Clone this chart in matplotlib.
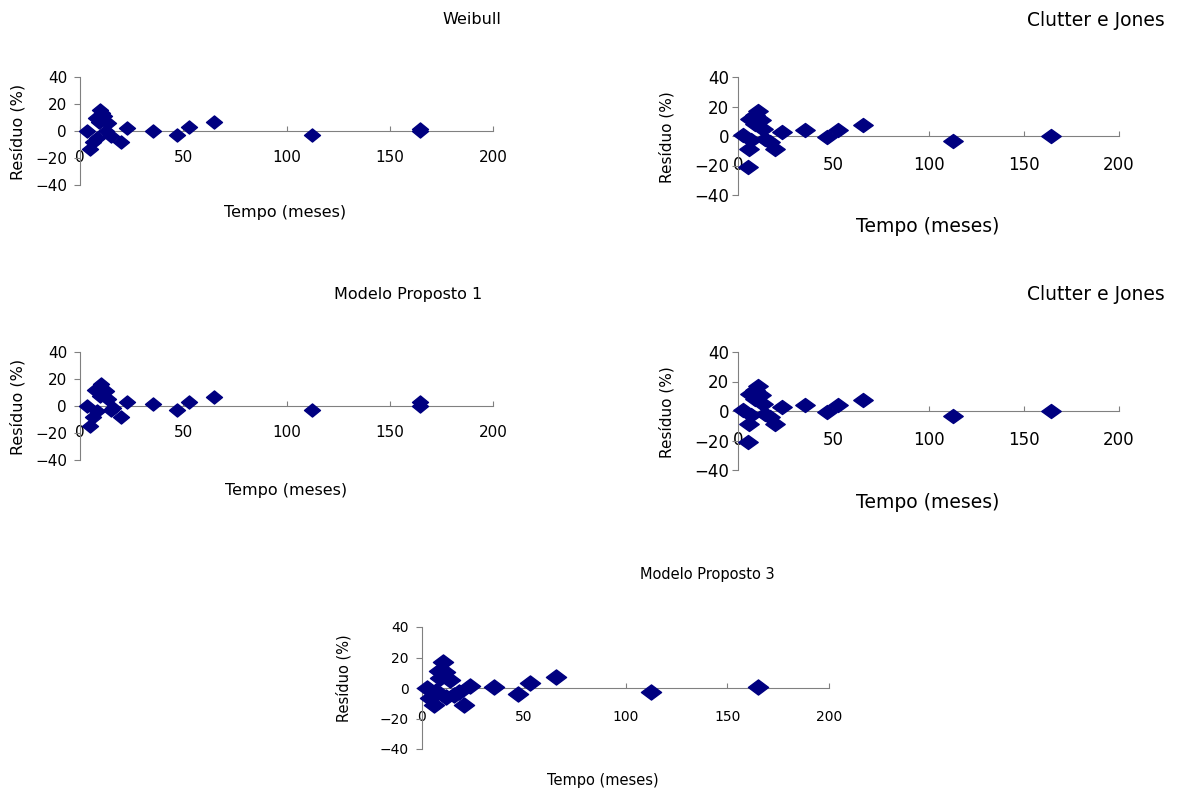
import matplotlib.pyplot as plt
from matplotlib.path import Path

# Resíduos (%) x Tempo (meses) para cada modelo
weibull_x = [3.6, 4.8, 6.1, 8.1, 7.6, 9.7, 9.4, 10.5, 11.8, 13.4, 12.6, 15.0, 19.9, 22.9,
             35.2, 46.8, 52.8, 65.1, 112.3, 164.5, 164.5]
weibull_y = [0.2, -13.3, -8.4, -5.2, 9.6, 15.8, 6.4, 13.0, 10.9, 5.9, -0.2, -3.5, -8.4, 2.0,
             0.2, -3.0, 2.7, 6.4, -2.7, 1.5, 0.0]

clutter_x = [2.6, 5.1, 5.8, 6.8, 6.5, 10.3, 9.1, 9.0, 12.1, 13.1, 14.3, 16.6, 19.6, 23.1,
             35.0, 46.7, 52.6, 65.6, 113.1, 164.3]
clutter_y = [0.5, -20.7, -9.0, -2.7, 11.7, 16.9, 7.9, 14.0, 10.8, 4.5, -2.2, -4.0, -9.0, 2.7,
             4.0, -0.7, 4.0, 7.6, -3.6, -0.2]

proposto1_x = [3.6, 4.8, 6.5, 8.4, 7.3, 10.0, 9.7, 12.4, 13.7, 14.9, 16.0, 20.0, 23.0,
               35.2, 46.8, 52.8, 65.0, 112.3, 164.5, 164.5]
proposto1_y = [0.0, -14.5, -8.0, -4.0, 11.5, 16.5, 7.5, 11.0, 5.5, -3.0, -1.5, -8.5, 3.0,
               1.8, -3.0, 3.0, 6.5, -2.7, 3.0, 0.0]

proposto3_x = [2.5, 4.1, 5.7, 7.0, 8.5, 10.3, 9.0, 11.5, 13.9, 12.0, 15.5, 18.0, 20.5, 23.7,
               35.2, 47.1, 53.2, 66.0, 112.4, 165.3]
proposto3_y = [0.0, -6.6, -10.9, -2.2, 11.4, 16.8, 6.6, 10.3, 5.0, -5.9, -4.4, -2.8, -10.9, 1.1,
               0.7, -3.7, 3.3, 7.0, -2.4, 0.4]

x_ticks = [0, 50, 100, 150, 200]
y_ticks = [-40, -20, 0, 20, 40]

W, H = 1181, 792
fig = plt.figure(figsize=(W / 100, H / 100), dpi=100)


def losango(r):
    # losango achatado, como no Excel
    return Path([(-1, 0), (0, r), (1, 0), (0, -r), (-1, 0)],
                [Path.MOVETO, Path.LINETO, Path.LINETO, Path.LINETO, Path.CLOSEPOLY])


def painel(box, xs, ys, title, title_xy, xlab_xy, ylab_xy, fs, tfs, ms, mr, xpad, ypad, ylab_fs):
    left, right, top, bottom = box
    ax = fig.add_axes([left / W, 1 - bottom / H, (right - left) / W, (bottom - top) / H])
    ax.plot(xs, ys, linestyle='none', marker=losango(mr), markersize=ms,
            color='#000080', clip_on=False, zorder=3)
    ax.set_xlim(0, 200)
    ax.set_ylim(-40, 40)
    ax.set_xticks(x_ticks)
    ax.set_yticks(y_ticks)
    for s in ['top', 'right']:
        ax.spines[s].set_visible(False)
    ax.spines['bottom'].set_position(('data', 0))
    ax.spines['bottom'].set_color('#808080')
    ax.spines['left'].set_color('#808080')
    ax.tick_params(axis='x', direction='in', length=3.5, color='#808080', pad=xpad, labelsize=fs)
    ax.tick_params(axis='y', direction='out', length=4.3, color='#808080', pad=ypad, labelsize=fs)
    ax.patch.set_visible(False)

    ax.set_xlabel('Tempo (meses)', fontsize=tfs, va='center')
    ax.xaxis.set_label_coords((xlab_xy[0] - left) / (right - left),
                              (bottom - xlab_xy[1]) / (bottom - top))
    ax.set_ylabel('Resíduo (%)', fontsize=ylab_fs, va='center')
    ax.yaxis.set_label_coords((ylab_xy[0] - left) / (right - left),
                              (bottom - ylab_xy[1]) / (bottom - top))

    fig.text(title_xy[0] / W, 1 - title_xy[1] / H, title, fontsize=tfs,
             ha='center', va='center')
    return ax


painel((80, 493, 77, 185), weibull_x, weibull_y, 'Weibull', (472, 20),
       (285, 213), (18, 132), 11, 11.5, 11.5, 0.82, 13.5, 5, 11.5)
painel((738, 1119, 77, 195), clutter_x, clutter_y, 'Clutter e Jones', (1096, 20),
       (928, 227), (667, 137), 12, 13.5, 14, 0.72, 14.4, 2, 11)
painel((80, 493, 352, 460), proposto1_x, proposto1_y, 'Modelo Proposto 1', (408, 294),
       (286, 490), (18, 407), 11, 11.5, 11.5, 0.82, 13.5, 5, 11.5)
painel((738, 1119, 352, 470), clutter_x, clutter_y, 'Clutter e Jones', (1096, 294),
       (928, 502), (667, 412), 12, 13.5, 14, 0.72, 14.4, 2, 11)
painel((422, 829, 627, 749), proposto3_x, proposto3_y, 'Modelo Proposto 3', (707, 574),
       (603, 780), (344, 678), 10, 10.5, 14.5, 0.75, 16, 5.5, 10.5)

fig.savefig('out.png', dpi=100)
